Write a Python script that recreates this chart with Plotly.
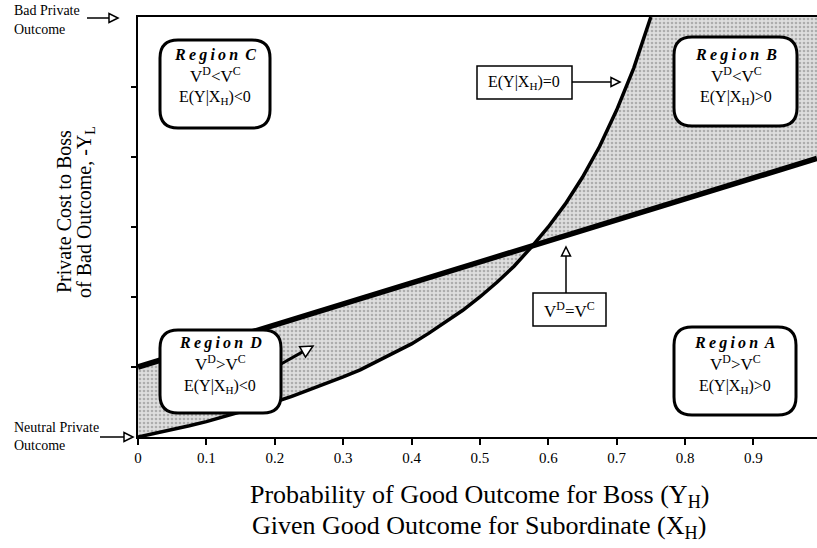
import plotly.graph_objects as go

# values
curve_x = [0, 0.025, 0.05, 0.075, 0.1, 0.125, 0.15, 0.175, 0.2, 0.225, 0.25,
           0.275, 0.3, 0.325, 0.35, 0.375, 0.4, 0.425, 0.45, 0.475, 0.5,
           0.525, 0.55, 0.575, 0.6, 0.625, 0.65, 0.675, 0.7, 0.725, 0.75]
curve_y = [0, 0.05, 0.11, 0.16, 0.22, 0.29, 0.35, 0.42, 0.5, 0.58, 0.67,
           0.76, 0.86, 0.96, 1.08, 1.2, 1.33, 1.48, 1.64, 1.81, 2.0,
           2.21, 2.44, 2.71, 3.0, 3.33, 3.71, 4.15, 4.67, 5.27, 6.0]
line_x = [0, 0.993]
line_y = [1.0, 3.98]
cross_x, cross_y = 0.577, 2.73
y_top = 6.0
x_ticks = [0, 0.1, 0.2, 0.3, 0.4, 0.5, 0.6, 0.7, 0.8, 0.9]
x_tick_text = ["0", "0.1", "0.2", "0.3", "0.4", "0.5", "0.6", "0.7", "0.8", "0.9"]
y_ticks = [1, 2, 3, 4, 5]

W, H = 817, 548
L, R, T, B = 138, 0, 17, 111
PW, PH = W - L - R, H - T - B
SERIF = "Liberation Serif, Times New Roman, serif"
THIN = "\u2009"


def px(x, y):
    """pixel position -> paper coordinates"""
    return (x - L) / PW, (T + PH - y) / PH


def rounded_box(x0, y0, x1, y1, r=18, width=3):
    ax, ay = px(x0, y0)
    bx, by = px(x1, y1)
    rx, ry = r / PW, r / PH
    path = (f"M {ax + rx},{ay} L {bx - rx},{ay} Q {bx},{ay} {bx},{ay - ry} "
            f"L {bx},{by + ry} Q {bx},{by} {bx - rx},{by} "
            f"L {ax + rx},{by} Q {ax},{by} {ax},{by + ry} "
            f"L {ax},{ay - ry} Q {ax},{ay} {ax + rx},{ay} Z")
    return dict(type="path", path=path, xref="paper", yref="paper", layer="above",
                fillcolor="white", line=dict(color="black", width=width))


def plain_box(x0, y0, x1, y1):
    ax, ay = px(x0, y0)
    bx, by = px(x1, y1)
    return dict(type="rect", x0=ax, y0=by, x1=bx, y1=ay, xref="paper", yref="paper",
                layer="above", fillcolor="white", line=dict(color="black", width=1.5))


def open_arrow(x0, y0, x1, y1, width=1.5, head=9, half=4.5):
    """line from (x0,y0) to tip (x1,y1) with an open triangle head, in pixels"""
    dx, dy = x1 - x0, y1 - y0
    n = (dx * dx + dy * dy) ** 0.5
    ux, uy = dx / n, dy / n
    bx, by = x1 - ux * head, y1 - uy * head
    p1 = px(bx - uy * half, by + ux * half)
    p2 = px(bx + uy * half, by - ux * half)
    tip = px(x1, y1)
    s = px(x0, y0)
    b = px(bx, by)
    shaft = dict(type="line", x0=s[0], y0=s[1], x1=b[0], y1=b[1], xref="paper",
                 yref="paper", layer="above", line=dict(color="black", width=width))
    tri = dict(type="path", xref="paper", yref="paper", layer="above",
               path=f"M {tip[0]},{tip[1]} L {p1[0]},{p1[1]} L {p2[0]},{p2[1]} Z",
               fillcolor="white", line=dict(color="black", width=1.5))
    return [shaft, tri]


def label(text, x, y, size=14, **kw):
    ax, ay = px(x, y)
    return dict(text=text, x=ax, y=ay, xref="paper", yref="paper", showarrow=False,
                xanchor=kw.pop("xanchor", "center"), yanchor="middle",
                font=dict(family=SERIF, size=size, color="black"), **kw)


stipple = dict(shape=".", size=4, solidity=0.35, fgcolor="#7c7c7c", bgcolor="#dedede")

# shaded regions between the line and the curve
n_left = sum(1 for v in curve_x if v < cross_x)
d_x = curve_x[:n_left] + [cross_x, line_x[0]]
d_y = curve_y[:n_left] + [cross_y, line_y[0]]
b_x = [cross_x] + curve_x[n_left:] + [line_x[1], line_x[1]]
b_y = [cross_y] + curve_y[n_left:] + [y_top, line_y[1]]

fig = go.Figure()
for fx, fy in [(d_x, d_y), (b_x, b_y)]:
    fig.add_trace(go.Scatter(x=fx, y=fy, mode="lines", fill="toself", line=dict(width=0),
                             fillcolor="#d0d0d0", fillpattern=stipple, hoverinfo="skip"))
fig.add_trace(go.Scatter(x=curve_x, y=curve_y, mode="lines",
                         line=dict(color="black", width=3.5)))
fig.add_trace(go.Scatter(x=line_x, y=line_y, mode="lines",
                         line=dict(color="black", width=5.5)))

shapes = [
    rounded_box(160, 40, 270, 128),
    rounded_box(674, 37, 797, 126),
    rounded_box(160, 330, 281, 413),
    rounded_box(674, 327, 796, 415),
    plain_box(477, 66, 572, 99),
    plain_box(533, 293, 606, 326),
]
shapes += open_arrow(87, 18, 118, 18)
shapes += open_arrow(100, 437, 133, 437)
shapes += open_arrow(572, 82, 620, 82)
shapes += open_arrow(566, 293, 566, 247)
shapes += open_arrow(281, 364, 313, 346, width=3, head=12, half=6)

annotations = [
    label("Bad Private", 12, 10, size=14, xanchor="left"),
    label("Outcome", 12, 29, size=14, xanchor="left"),
    label("Neutral Private", 12, 427, size=14, xanchor="left"),
    label("Outcome", 12, 446, size=14, xanchor="left"),
    label("E(Y|X<sub>H</sub>)=0", 524, 82, size=16),
    label("V<sup>D</sup>=V<sup>C</sup>", 569, 310, size=17),
    label("Probability of Good Outcome for Boss (Y<sub>H</sub>)", 479, 496, size=26),
    label("Given Good Outcome for Subordinate (X<sub>H</sub>)", 479, 527, size=26),
    label("Private Cost to Boss", 64, 212, size=20, textangle=-90),
    label("of Bad Outcome, -Y<sub>L</sub>", 85, 212, size=20, textangle=-90),
]
# region name, text centre (px), V^D vs V^C sign, E(Y|X_H) sign
regions = [
    ("C", 215, 55, "&lt;", "&lt;"),
    ("B", 736, 55, "&lt;", "&gt;"),
    ("D", 220, 343, "&gt;", "&lt;"),
    ("A", 735, 343, "&gt;", "&gt;"),
]
for name, cx, cy, v_op, e_op in regions:
    title = THIN.join("Region") + THIN + " " + name
    annotations.append(label(f"<b><i>{title}</i></b>", cx, cy, size=16))
    annotations.append(label(f"V<sup>D</sup>{v_op}V<sup>C</sup>", cx, cy + 20, size=17))
    annotations.append(label(f"E(Y|X<sub>H</sub>){e_op}0", cx, cy + 43, size=16))

fig.update_layout(
    width=W, height=H, margin=dict(l=L, r=R, t=T, b=B),
    plot_bgcolor="white", paper_bgcolor="white", showlegend=False,
    font=dict(family=SERIF, color="black"),
    shapes=shapes, annotations=annotations,
)
fig.update_xaxes(range=[0, 0.993], showgrid=False, zeroline=False, showline=True,
                 linecolor="black", linewidth=2, mirror=True, ticks="outside",
                 ticklen=6, tickwidth=1.5, tickcolor="black", tickvals=x_ticks,
                 ticktext=x_tick_text, tickfont=dict(family=SERIF, size=15))
fig.update_yaxes(range=[0, y_top], showgrid=False, zeroline=False, showline=True,
                 linecolor="black", linewidth=2, ticks="outside", ticklen=5,
                 tickwidth=1.5, tickcolor="black", tickvals=y_ticks,
                 showticklabels=False)

# the page body has a default 8px margin; drop it so the figure sits at 0,0
fig.write_html("out.html", config={"displayModeBar": False},
               post_script="document.body.style.margin='0px';")
